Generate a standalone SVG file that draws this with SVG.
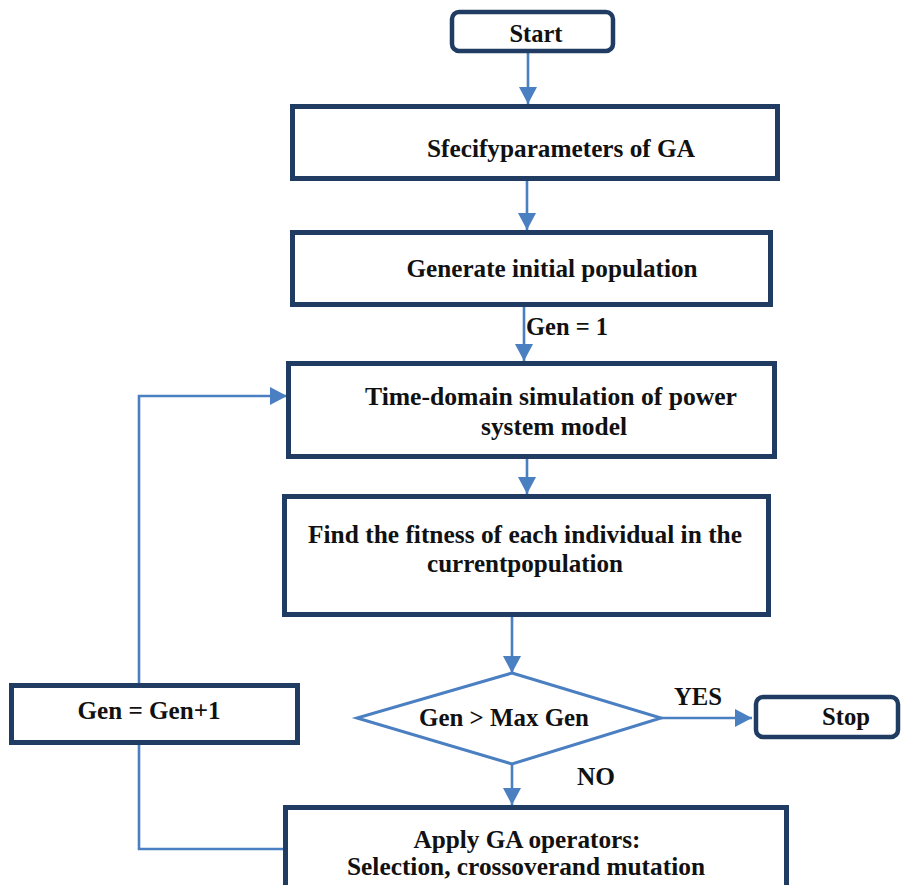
<svg xmlns="http://www.w3.org/2000/svg" width="909" height="885" viewBox="0 0 909 885">
<style>
.box{fill:#fff;stroke:#213c63;stroke-width:5}
.term{fill:#fff;stroke:#213c63;stroke-width:4.5}
.dia{fill:#fff;stroke:#4a7fc1;stroke-width:3}
.con{fill:none;stroke:#4a7fc1;stroke-width:2.6}
.t{font-family:"Liberation Serif","Times New Roman",serif;font-weight:bold;font-size:25.5px;fill:#111;text-anchor:middle}
</style>
<defs>
<marker id="ah" markerUnits="userSpaceOnUse" markerWidth="18" markerHeight="18" refX="17" refY="9" orient="auto">
<path d="M0,0 L17,9 L0,18 Z" fill="#4a7fc1"/>
</marker>
</defs>
<rect width="909" height="885" fill="#fff"/>
<g id="connectors">
<line class="con" x1="528" y1="53" x2="528" y2="104" marker-end="url(#ah)"/>
<line class="con" x1="527" y1="181" x2="527" y2="230" marker-end="url(#ah)"/>
<line class="con" x1="524" y1="307" x2="524" y2="361" marker-end="url(#ah)"/>
<line class="con" x1="527" y1="459" x2="527" y2="494" marker-end="url(#ah)"/>
<line class="con" x1="512" y1="617" x2="512" y2="673" marker-end="url(#ah)"/>
<line class="con" x1="661" y1="718" x2="752" y2="718" marker-end="url(#ah)"/>
<line class="con" x1="512" y1="764" x2="512" y2="805" marker-end="url(#ah)"/>
<polyline class="con" points="284,849 139,849 139,745"/>
<polyline class="con" points="139,683 139,396 287,396" marker-end="url(#ah)"/>
<text class="t" x="567" y="335" textLength="82" lengthAdjust="spacingAndGlyphs">Gen = 1</text>
<text class="t" x="698" y="705" textLength="48" lengthAdjust="spacingAndGlyphs">YES</text>
<text class="t" x="596" y="785" textLength="38" lengthAdjust="spacingAndGlyphs">NO</text>
</g>
<g id="start">
<rect class="term" x="452" y="12" width="161" height="39" rx="7"/>
<text class="t" x="536" y="42" textLength="53" lengthAdjust="spacingAndGlyphs">Start</text>
</g>
<g id="specify">
<rect class="box" x="292.5" y="106.5" width="485" height="72"/>
<text class="t" x="561" y="157" textLength="268" lengthAdjust="spacingAndGlyphs">Sfecifyparameters of GA</text>
</g>
<g id="generate">
<rect class="box" x="292.5" y="232.5" width="478" height="72"/>
<text class="t" x="552" y="277" textLength="291" lengthAdjust="spacingAndGlyphs">Generate initial population</text>
</g>
<g id="timedomain">
<rect class="box" x="288.5" y="363.5" width="486" height="93"/>
<text class="t" x="551" y="405" textLength="372" lengthAdjust="spacingAndGlyphs">Time-domain simulation of power</text>
<text class="t" x="554" y="435" textLength="146" lengthAdjust="spacingAndGlyphs">system model</text>
</g>
<g id="fitness">
<rect class="box" x="284.5" y="496.5" width="484" height="118"/>
<text class="t" x="525" y="543" textLength="434" lengthAdjust="spacingAndGlyphs">Find the fitness of each individual in the</text>
<text class="t" x="525" y="572" textLength="196" lengthAdjust="spacingAndGlyphs">currentpopulation</text>
</g>
<g id="decision">
<polygon class="dia" points="512,673 661,718 512,764 357,718"/>
<text class="t" x="504" y="726" textLength="170" lengthAdjust="spacingAndGlyphs">Gen &gt; Max Gen</text>
</g>
<g id="stop">
<rect class="term" x="756" y="697" width="142" height="40" rx="7"/>
<text class="t" x="846" y="725" textLength="48" lengthAdjust="spacingAndGlyphs">Stop</text>
</g>
<g id="increment">
<rect class="box" x="11.5" y="685.5" width="286" height="57"/>
<text class="t" x="149" y="719" textLength="143" lengthAdjust="spacingAndGlyphs">Gen = Gen+1</text>
</g>
<g id="apply">
<rect class="box" x="285.5" y="807.5" width="501" height="90"/>
<text class="t" x="527" y="848" textLength="227" lengthAdjust="spacingAndGlyphs">Apply GA operators:</text>
<text class="t" x="526" y="875" textLength="358" lengthAdjust="spacingAndGlyphs">Selection, crossoverand mutation</text>
</g>
</svg>
